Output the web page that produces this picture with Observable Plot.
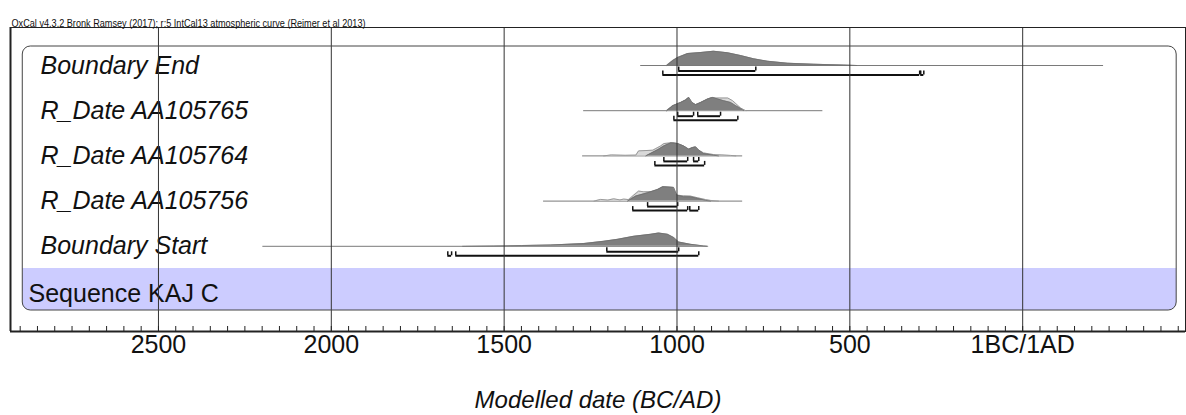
<!DOCTYPE html>
<html>
<head>
<meta charset="utf-8">
<script src="https://cdn.jsdelivr.net/npm/d3@7"></script>
<script src="https://cdn.jsdelivr.net/npm/@observablehq/plot@0.6"></script>
<style>
  html, body { margin: 0; padding: 0; background: #fff; }
  svg { display: block; }
  svg text { font-family: "Liberation Sans", Arial, Helvetica, sans-serif; }
</style>
</head>
<body>
<div id="chart"></div>
<script>
// ---------- DATA (years BC; negative = AD) ----------
const titleText = "OxCal v4.3.2 Bronk Ramsey (2017); r:5 IntCal13 atmospheric curve (Reimer et al 2013)";
const axisTitle = "Modelled date (BC/AD)";
const rowNames = ["Boundary End", "R_Date AA105765", "R_Date AA105764", "R_Date AA105756", "Boundary Start"];
const sequenceName = "Sequence KAJ C";
const tickYears = [2500, 2000, 1500, 1000, 500, 0];
const tickLabels = ["2500", "2000", "1500", "1000", "500", "1BC/1AD"];

// thin range line of each row [from, to]
const spanFrom = [1105, 1270, 1273, 1386, 2198];
const spanTo = [-234, 578, 810, 810, 911];

// posterior (dark) densities: [year BC, relative probability]
const postEnd = [[1030,0],[1012,5],[998,8],[969,12],[931,13],[894,14.3],[853,12.7],[816,10],[778,6.7],[738,4.3],[680,2.3],[605,1.3],[518,0.4],[480,0]];
const post65 = [[1030,0],[1012,5],[989,8.3],[975,10.7],[966,13.3],[957,8.3],[946,6],[931,8.3],[911,11.7],[897,13.3],[882,11.7],[865,10],[845,8.3],[830,5],[816,2.3],[807,0]];
const post64 = [[1090,0],[1053,6.7],[1038,10],[1018,13],[998,12.3],[981,10],[966,6.7],[955,8.3],[946,9],[937,5.7],[923,2.3],[894,0.7],[880,0]];
const post56 = [[1143,0],[1119,5],[1085,8.3],[1056,11.7],[1041,14.3],[1010,13.7],[1001,6],[981,4.3],[961,4.3],[940,2.7],[917,0.7],[903,0]];
const postStart = [[1620,0],[1530,0.3],[1450,0.7],[1365,1.3],[1270,2.7],[1212,5],[1171,7],[1125,10],[1076,12],[1053,13.3],[1027,12],[1009,8.7],[995,4.3],[961,2],[923,0.4],[911,0]];

// prior / likelihood (light) densities
const prior65 = [[1030,0],[1012,5],[989,8.3],[975,10.7],[966,13.3],[957,8.3],[946,6],[931,8.3],[911,11.7],[903,12.7],[853,12.7],[839,10],[816,2.7],[801,0]];
const prior64 = [[1212,0],[1190,1],[1150,0.6],[1119,0.8],[1111,5],[1070,5.7],[1047,10],[1038,12.3],[1012,13.3],[998,12.3],[981,10],[966,6.7],[955,8.3],[946,9],[937,5.7],[923,3],[894,1.3],[870,1],[845,0.5],[830,0]];
const prior56 = [[1240,0],[1221,1.7],[1200,1],[1183,2.3],[1165,1.2],[1154,2],[1140,1.5],[1125,6],[1111,10],[1096,9.3],[1070,9.5],[1056,11],[1041,14.3],[1010,13.7],[1001,6],[981,5.3],[961,5],[940,3.3],[917,1.5],[903,0.7],[880,0]];

// highest posterior density ranges [from, to]
const range68 = [[[995,772]], [[998,952],[940,874]], [[1038,969],[952,937]], [[1085,998]], [[1203,995]]];
const range95 = [[[1041,298],[295,286]], [[1009,824]], [[1064,920]], [[1128,969],[963,937]], [[1663,1652],[1640,937]]];

// ---------- LAYOUT ----------
const W = 1186, H = 415;
const mTop = 27, mBottom = 84, mLeft = 10, mRight = 1;
const xDomain = [2928, -471];
const rowStep = 45.2;              // px per row
const PX = 1 / rowStep;            // row units per px
const firstRowPx = 65;
const yTop = -(firstRowPx - mTop) * PX;
const yBottom = (H - mBottom - firstRowPx) * PX;
const seqRow = rowNames.length;    // the sequence band row
const boxTop = -19 * PX;
const bandTop = seqRow - 23 * PX;
const boxBottom = seqRow + 19 * PX;
const boxLeft = 2892.5, boxRight = -445.5;

const postSets = [postEnd, post65, post64, post56, postStart];
const priorSets = [null, prior65, prior64, prior56, null];

const postRows = postSets.flatMap((s, i) => s.map(([bc, h]) => ({name: rowNames[i], row: i, bc, h})));
const priorRows = priorSets.flatMap((s, i) => s ? s.map(([bc, h]) => ({name: rowNames[i], row: i, bc, h})) : []);
const spans = rowNames.map((n, i) => ({row: i, from: spanFrom[i], to: spanTo[i]}));
const off68 = 5.5 * PX, off95 = 9.5 * PX;
const brackets = [
  ...range68.flatMap((rs, i) => rs.map(([a, b]) => ({row: i, y: i + off68, a, b}))),
  ...range95.flatMap((rs, i) => rs.map(([a, b]) => ({row: i, y: i + off95, a, b})))
];
const bracketEnds = brackets.flatMap(d => [{x: d.a, y: d.y}, {x: d.b, y: d.y}]);
const minorTicks = d3.range(-450, 2951, 50).filter(v => v <= xDomain[0] && v >= xDomain[1]);

const font = "Liberation Sans, Arial, Helvetica, sans-serif";

const chart = Plot.plot({
  width: W, height: H,
  marginTop: mTop, marginBottom: mBottom, marginLeft: mLeft, marginRight: mRight,
  style: {fontFamily: font, background: "#fff", color: "#111"},
  x: {domain: xDomain, axis: null},
  y: {domain: [yBottom, yTop], axis: null},
  marks: [
    // rounded outer box background
    Plot.rect([0], {x1: boxLeft, x2: boxRight, y1: boxTop, y2: boxBottom, fill: "#fff", rx: 8}),
    // sequence band
    Plot.rect([0], {x1: boxLeft, x2: boxRight, y1: bandTop, y2: boxBottom, fill: "#ccccff", rx: 8}),
    Plot.rect([0], {x1: boxLeft, x2: boxRight, y1: bandTop, y2: seqRow, fill: "#ccccff"}),
    // thin range lines
    Plot.ruleY(spans, {y: "row", x1: "from", x2: "to", stroke: "#7a7a7a", strokeWidth: 1}),
    // prior / likelihood
    Plot.areaY(priorRows, {x: "bc", y1: "row", y2: d => d.row - d.h * PX, z: "name", fill: "#d9d9d9"}),
    Plot.lineY(priorRows, {x: "bc", y: d => d.row - d.h * PX, z: "name", stroke: "#9a9a9a", strokeWidth: 1}),
    // posterior
    Plot.areaY(postRows, {x: "bc", y1: "row", y2: d => d.row - d.h * PX, z: "name", fill: "#7f7f7f"}),
    Plot.lineY(postRows, {x: "bc", y: d => d.row - d.h * PX, z: "name", stroke: "#6e6e6e", strokeWidth: 0.8}),
    // HPD brackets
    Plot.ruleY(brackets, {y: "y", x1: "a", x2: "b", stroke: "#111", strokeWidth: 2}),
    Plot.ruleX(bracketEnds, {x: "x", y1: "y", y2: d => d.y - 4 * PX, stroke: "#111", strokeWidth: 1.5}),
    // row labels
    Plot.text(rowNames, {x: xDomain[0], y: (d, i) => i, text: d => d, dx: 30, dy: 0, textAnchor: "start",
      fontSize: 25, fontStyle: "italic", fill: "#111"}),
    Plot.text([sequenceName], {x: xDomain[0], y: seqRow, text: d => d, dx: 18, dy: 2, textAnchor: "start",
      fontSize: 25, fill: "#111"}),
    // grid lines at major ticks
    Plot.ruleX(tickYears, {stroke: "#333", strokeWidth: 1}),
    // minor ticks
    Plot.ruleX(minorTicks, {stroke: "#222", strokeWidth: 1, insetTop: (H - mBottom - mTop) - 5}),
    // rounded box outline
    Plot.rect([0], {x1: boxLeft, x2: boxRight, y1: boxTop, y2: boxBottom, fill: "none", stroke: "#444", strokeWidth: 1, rx: 8}),
    // outer frame
    Plot.frame({stroke: "#222", strokeWidth: 1}),
    Plot.ruleX([xDomain[0]], {stroke: "#222", strokeWidth: 2}),
    Plot.ruleY([yBottom], {stroke: "#222", strokeWidth: 2}),
    // axis tick labels
    Plot.text(tickYears, {x: d => d, text: (d, i) => tickLabels[i], frameAnchor: "bottom", lineAnchor: "top",
      dy: 4, fontSize: 25, fill: "#111"}),
    // axis title
    Plot.text([axisTitle], {frameAnchor: "bottom", lineAnchor: "top", dy: 59, fontSize: 24, fontStyle: "italic", fill: "#111"}),
    // top title
    Plot.text([titleText], {frameAnchor: "top-left", lineAnchor: "bottom", dx: 1, dy: -1, textAnchor: "start",
      fontSize: 10.5, fill: "#111", className: "oxcal-title"})
  ]
});
document.getElementById("chart").appendChild(chart);
// fit the small header text to the width it has in the reference
d3.select(chart).selectAll(".oxcal-title text")
  .attr("textLength", 354).attr("lengthAdjust", "spacingAndGlyphs");
</script>
</body>
</html>
